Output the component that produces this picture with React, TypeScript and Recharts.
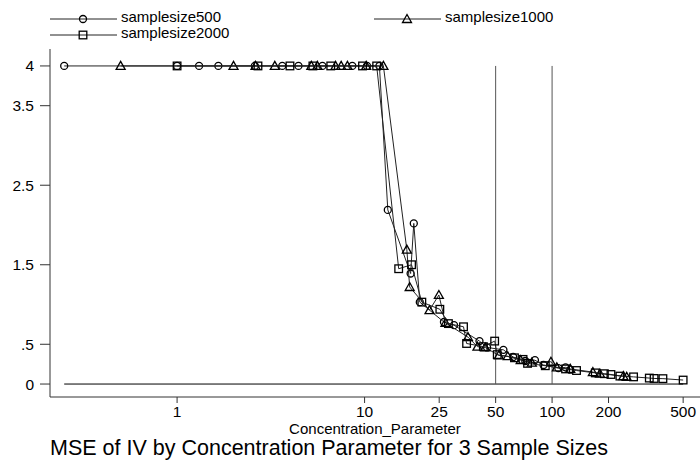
import React from 'react';
import { ComposedChart, Scatter, XAxis, YAxis, ReferenceLine } from 'recharts';

// concentration parameter (x) and MSE of IV (y), one pair of arrays per sample size
const conc500 = [0.25, 1.0, 1.31, 1.66, 2.6, 3.64, 4.44, 5.96, 8.6, 10.3, 12.0, 13.3, 17.6, 18.3, 19.7, 26.5, 30, 41, 45, 55, 62, 72, 81, 90, 108, 118, 125];
const mse500 = [4, 4, 4, 4, 4, 4, 4, 4, 4, 4, 4, 2.19, 1.39, 2.02, 1.03, 0.78, 0.74, 0.54, 0.46, 0.43, 0.34, 0.29, 0.3, 0.24, 0.2, 0.21, 0.18];

const conc1000 = [0.5, 2.0, 2.62, 3.32, 5.2, 5.6, 7.0, 7.5, 8.1, 10.2, 12.6, 16.8, 17.4, 22.2, 24.9, 27, 35.6, 40, 44, 52, 58, 68, 78, 98.6, 106, 125, 165, 180, 240, 250];
const mse1000 = [4, 4, 4, 4, 4, 4, 4, 4, 4, 4, 4, 1.69, 1.22, 0.93, 1.12, 0.77, 0.59, 0.47, 0.46, 0.36, 0.35, 0.3, 0.27, 0.28, 0.21, 0.19, 0.15, 0.13, 0.1, 0.09];

const conc2000 = [1.0, 2.7, 4.0, 5.3, 6.6, 9.75, 11.6, 15.2, 17.8, 20.2, 25.2, 28, 33.7, 35, 43, 49.4, 51, 63, 70, 74, 92, 118, 135, 170, 190, 206, 230, 272, 330, 350, 390, 500];
const mse2000 = [4, 4, 4, 4, 4, 4, 4, 1.45, 1.5, 1.03, 0.94, 0.76, 0.72, 0.51, 0.47, 0.54, 0.37, 0.33, 0.31, 0.26, 0.23, 0.19, 0.17, 0.14, 0.13, 0.12, 0.1, 0.09, 0.075, 0.07, 0.068, 0.05];

const xTicks = [1, 10, 25, 50, 100, 200, 500];
const yTicks = [0, 0.5, 1.5, 2.5, 3.5, 4];
const cutoffs = [50, 100];
const zeroLine = [0.25, 500];

const toPoints = (xs: number[], ys: number[]) => xs.map((x, i) => ({ x, y: ys[i] }));

const FONT = '"Liberation Sans", Arial, sans-serif';
const INK = '#000';

const CircleMark = ({ cx, cy }: any) => (
  <circle cx={cx} cy={cy} r={3.5} fill="none" stroke={INK} strokeWidth={1.3} />
);
const TriangleMark = ({ cx, cy }: any) => (
  <polygon
    points={`${cx},${cy - 4.5} ${cx + 4.5},${cy + 3.5} ${cx - 4.5},${cy + 3.5}`}
    fill="none"
    stroke={INK}
    strokeWidth={1.3}
  />
);
const SquareMark = ({ cx, cy }: any) => (
  <rect x={cx - 3.8} y={cy - 3.8} width={7.6} height={7.6} fill="none" stroke={INK} strokeWidth={1.3} />
);

const fmtY = (v: number) => (v === 0.5 ? '.5' : String(v));

const LegendItem = ({ x, y, label, mark }: { x: number; y: number; label: string; mark: string }) => {
  const mx = x + 33;
  return (
    <g>
      <line x1={x} x2={x + 67} y1={y} y2={y} stroke="#222" strokeWidth={1} />
      {mark === 'circle' && <CircleMark cx={mx} cy={y} />}
      {mark === 'triangle' && <TriangleMark cx={mx} cy={y} />}
      {mark === 'square' && <SquareMark cx={mx} cy={y} />}
      <text x={x + 71} y={y + 3} fontSize={15} fill="#000" fontFamily={FONT}>
        {label}
      </text>
    </g>
  );
};

export default function App() {
  return (
    <div style={{ position: 'absolute', left: 0, top: 0, width: 700, height: 464, background: '#fff', fontFamily: FONT }}>
      <ComposedChart width={700} height={464} margin={{ top: 49, right: 0, bottom: 0, left: 0 }}>
        <XAxis
          type="number"
          dataKey="x"
          scale="log"
          domain={[0.21, 615]}
          allowDataOverflow
          ticks={xTicks}
          height={67}
          tickSize={6}
          tickMargin={3}
          axisLine={{ stroke: '#333' }}
          tickLine={{ stroke: '#333' }}
          tick={{ fill: '#000', fontSize: 15.5, fontFamily: FONT }}
        />
        <YAxis
          type="number"
          dataKey="y"
          domain={[-0.163, 4.213]}
          allowDataOverflow
          ticks={yTicks}
          width={50}
          tickSize={10}
          tickMargin={6}
          tickFormatter={fmtY}
          axisLine={{ stroke: '#333' }}
          tickLine={{ stroke: '#333' }}
          tick={{ fill: '#000', fontSize: 15.5, fontFamily: FONT }}
        />
        <ReferenceLine
          segment={[{ x: zeroLine[0], y: 0 }, { x: zeroLine[1], y: 0 }]}
          stroke="#000"
          strokeWidth={1}
        />
        {cutoffs.map((c) => (
          <ReferenceLine key={c} segment={[{ x: c, y: 0 }, { x: c, y: 4 }]} stroke="#555" strokeWidth={1} />
        ))}
        <Scatter
          data={toPoints(conc500, mse500)}
          line={{ stroke: '#222', strokeWidth: 1 }}
          lineType="joint"
          shape={CircleMark}
          isAnimationActive={false}
        />
        <Scatter
          data={toPoints(conc1000, mse1000)}
          line={{ stroke: '#222', strokeWidth: 1 }}
          lineType="joint"
          shape={TriangleMark}
          isAnimationActive={false}
        />
        <Scatter
          data={toPoints(conc2000, mse2000)}
          line={{ stroke: '#222', strokeWidth: 1 }}
          lineType="joint"
          shape={SquareMark}
          isAnimationActive={false}
        />
      </ComposedChart>
      <svg width={700} height={464} style={{ position: 'absolute', left: 0, top: 0, pointerEvents: 'none' }}>
        <LegendItem x={50} y={19} label="samplesize500" mark="circle" />
        <LegendItem x={374} y={19} label="samplesize1000" mark="triangle" />
        <LegendItem x={50} y={35} label="samplesize2000" mark="square" />
        <text x={375} y={434} textAnchor="middle" fontSize={15} fill="#000" fontFamily={FONT}>
          Concentration_Parameter
        </text>
        <text x={50} y={455} fontSize={21.5} fill="#000" fontFamily={FONT}>
          MSE of IV by Concentration Parameter for 3 Sample Sizes
        </text>
      </svg>
    </div>
  );
}
